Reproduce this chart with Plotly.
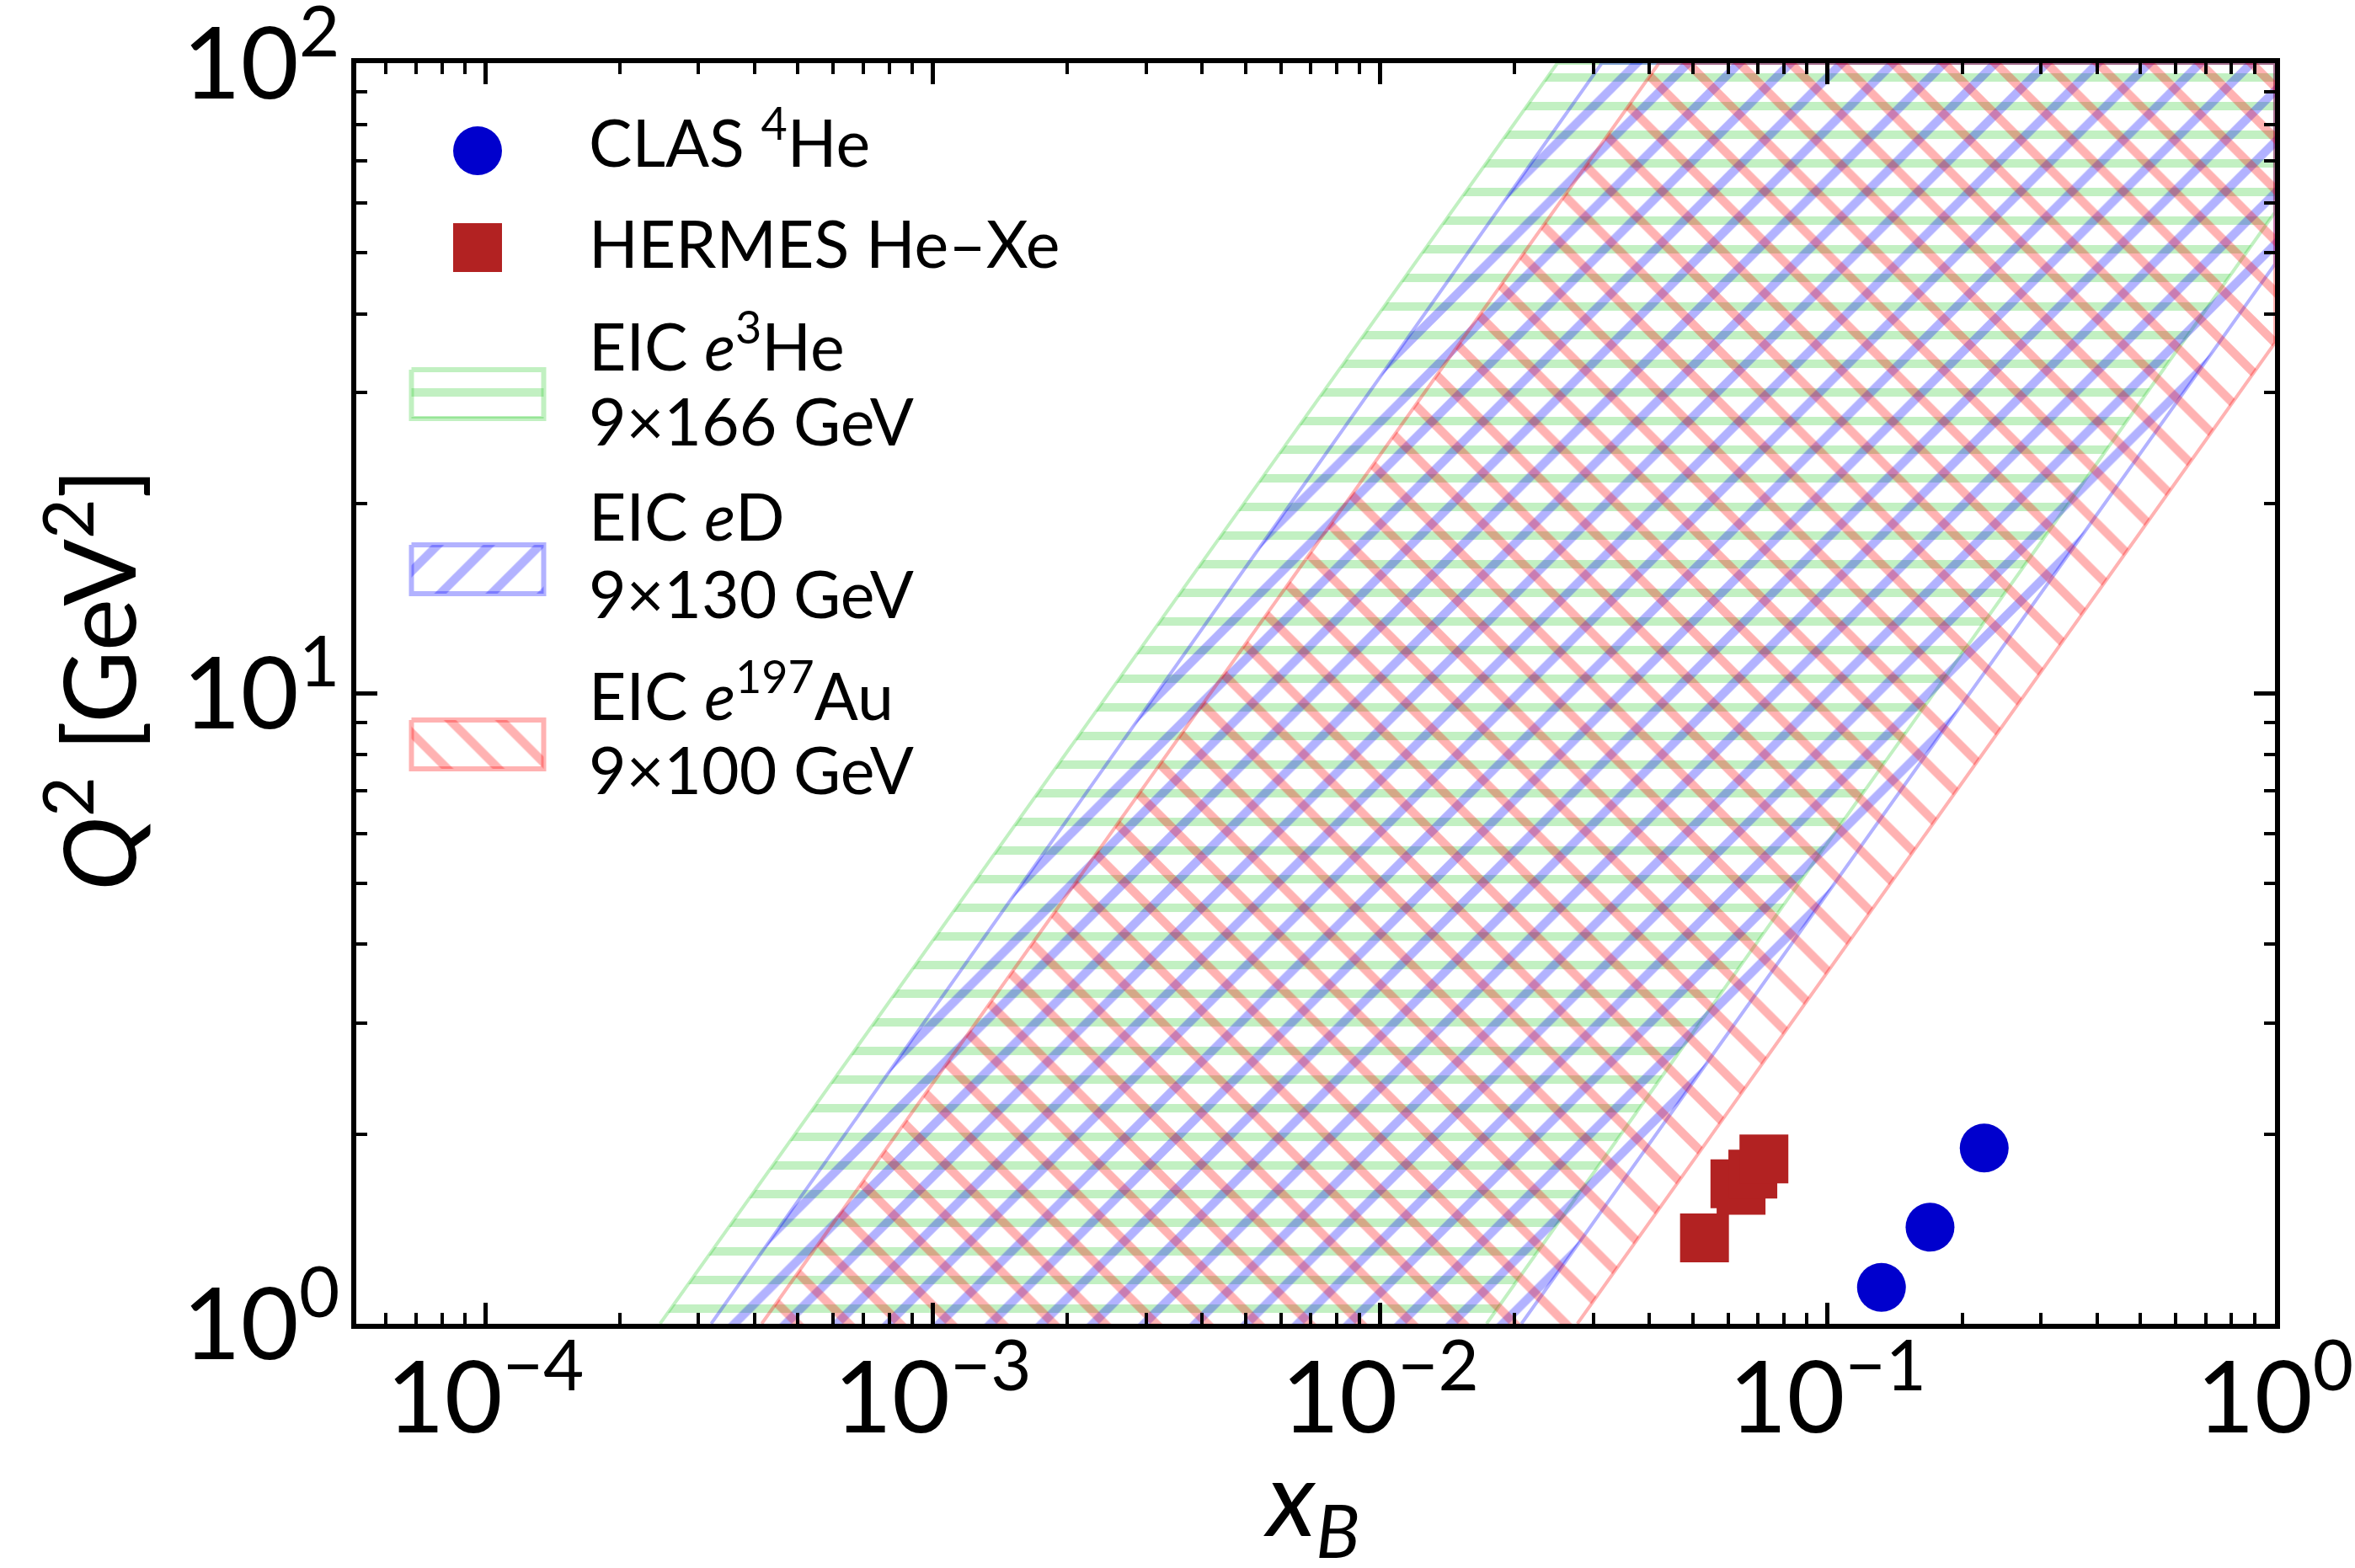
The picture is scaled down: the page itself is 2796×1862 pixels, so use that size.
import plotly.graph_objects as go

# ---------------- data ----------------
clas_x = [0.132, 0.1695, 0.224]
clas_q2 = [1.142, 1.423, 1.900]

hermes_x = [0.0531, 0.0621, 0.0641, 0.0681, 0.0721]
hermes_q2 = [1.368, 1.667, 1.628, 1.727, 1.826]

# EIC kinematic coverage bands (polygon vertices in x_B, Q^2)
eic_he3_x = [2.46e-4, 2.49e-2, 1.0, 1.0, 1.73e-2]
eic_he3_q2 = [1.0, 100.0, 100.0, 58.0, 1.0]
eic_d_x = [3.2e-4, 3.13e-2, 1.0, 1.0, 2.07e-2]
eic_d_q2 = [1.0, 100.0, 100.0, 48.0, 1.0]
eic_au_x = [4.15e-4, 4.2e-2, 1.0, 1.0, 2.76e-2]
eic_au_q2 = [1.0, 100.0, 100.0, 36.0, 1.0]

x_tickvals = [1e-4, 1e-3, 1e-2, 1e-1, 1]
x_ticktext = ["10<sup>\u22124</sup>", "10<sup>\u22123</sup>", "10<sup>\u22122</sup>",
              "10<sup>\u22121</sup>", "10<sup>0</sup>"]
y_tickvals = [1, 10, 100]
y_ticktext = ["10<sup>0</sup>", "10<sup>1</sup>", "10<sup>2</sup>"]

x_title = "<i>x</i><sub><i>B</i></sub>"
y_title = "<i>Q</i><sup>2</sup> [GeV<sup>2</sup>]"

legend_labels = [
    ["CLAS <sup>4</sup>He"],
    ["HERMES He\u2013Xe"],
    ["EIC <i>e</i><sup>3</sup>He", "9\u00d7166 GeV"],
    ["EIC <i>e</i>D", "9\u00d7130 GeV"],
    ["EIC <i>e</i><sup>197</sup>Au", "9\u00d7100 GeV"],
]

# ---------------- styles ----------------
GREEN = "rgba(50,205,50,0.3)"
BLUE = "rgba(0,0,255,0.3)"
RED = "rgba(255,0,0,0.3)"
CLAS_C = "#0000CD"
HERMES_C = "#B22222"
FONT = "Lato"

W, H = 2796, 1862
L, R, T, B = 423, 95, 75, 290
PW, PH = W - L - R, H - T - B

def pat(shape, color, size, solidity):
    return dict(shape=shape, fgcolor=color, bgcolor="rgba(0,0,0,0)",
                size=size, solidity=solidity, fillmode="replace")

bands = [
    ("EIC e3He 9x166 GeV", eic_he3_x, eic_he3_q2, GREEN, pat("-", GREEN, 34, 0.3)),
    ("EIC eD 9x130 GeV", eic_d_x, eic_d_q2, BLUE, pat("/", BLUE, 43, 0.24)),
    ("EIC e197Au 9x100 GeV", eic_au_x, eic_au_q2, RED, pat("\\", RED, 43, 0.24)),
]

fig = go.Figure()
for name, bx, bq, col, p in bands:
    fig.add_trace(go.Scatter(x=bx, y=bq, mode="lines", fill="toself", name=name,
                             line=dict(color=col, width=4), fillcolor=col,
                             fillpattern=p, showlegend=False, hoverinfo="skip"))

fig.add_trace(go.Scatter(x=hermes_x, y=hermes_q2, mode="markers", name="HERMES He\u2013Xe",
                         marker=dict(symbol="square", size=58, color=HERMES_C, line=dict(width=0)),
                         showlegend=False))
fig.add_trace(go.Scatter(x=clas_x, y=clas_q2, mode="markers", name="CLAS 4He",
                         marker=dict(symbol="circle", size=58, color=CLAS_C, line=dict(width=0)),
                         showlegend=False))

# ---------------- hand-made legend on an overlay pixel axis ----------------
px_x0, px_x1 = L, W - R
px_y0, px_y1 = H - B, T
sym_cx = 567
box_w, box_h = 157, 58
fig.add_trace(go.Scatter(x=[sym_cx], y=[179], xaxis="x2", yaxis="y2", mode="markers",
                         marker=dict(symbol="circle", size=58, color=CLAS_C),
                         showlegend=False, hoverinfo="skip"))
fig.add_trace(go.Scatter(x=[sym_cx], y=[294], xaxis="x2", yaxis="y2", mode="markers",
                         marker=dict(symbol="square", size=58, color=HERMES_C),
                         showlegend=False, hoverinfo="skip"))
box_centers = [468, 676, 884]
for (name, bx, bq, col, p), cy in zip(bands, box_centers):
    x0, x1 = sym_cx - box_w / 2, sym_cx + box_w / 2
    y0, y1 = cy - box_h / 2, cy + box_h / 2
    fig.add_trace(go.Scatter(x=[x0, x1, x1, x0, x0], y=[y0, y0, y1, y1, y0],
                             xaxis="x2", yaxis="y2", mode="lines", fill="toself",
                             line=dict(color=col, width=6), fillcolor=col, fillpattern=p,
                             showlegend=False, hoverinfo="skip"))

text_x = 697
line_centers = [[163], [288], [405, 499], [612, 704], [820, 913]]
for labels, ys in zip(legend_labels, line_centers):
    for lab, yy in zip(labels, ys):
        fig.add_annotation(x=text_x, y=yy, xref="x2", yref="y2", text=lab,
                           showarrow=False, xanchor="left", yanchor="middle",
                           font=dict(family=FONT, size=77, color="black"))

# axis titles placed as paper annotations (pixel positions converted to paper fractions)
fig.add_annotation(x=(1557 - L) / PW, y=(H - B - 1785) / PH, xref="paper", yref="paper",
                   text=x_title, showarrow=False, xanchor="center", yanchor="middle",
                   font=dict(family=FONT, size=125, color="black"))
fig.add_annotation(x=(107 - L) / PW, y=(H - B - 807) / PH, xref="paper", yref="paper",
                   text=y_title, showarrow=False, xanchor="center", yanchor="middle",
                   textangle=-90, font=dict(family=FONT, size=118, color="black"))

axis_common = dict(showgrid=False, zeroline=False, showline=True, linecolor="black",
                   linewidth=6, mirror="allticks", ticks="inside", ticklen=25,
                   tickwidth=5, tickcolor="black", automargin=False,
                   ticklabeloverflow="allow")

x_minor = [k * 10 ** e for e in range(-5, 0) for k in range(2, 10)]
y_minor = [k * 10 ** e for e in range(0, 2) for k in range(2, 10)]

fig.update_layout(
    width=W, height=H,
    margin=dict(l=L, r=R, t=T, b=B),
    plot_bgcolor="white", paper_bgcolor="white",
    showlegend=False,
    font=dict(family=FONT, color="black"),
    xaxis=dict(type="log", range=[-4.288, 0.0001], tickmode="array", tickvals=x_tickvals,
               ticktext=x_ticktext, tickfont=dict(size=119), ticklabelstandoff=-20,
               minor=dict(tickvals=x_minor, ticks="inside", ticklen=13, tickwidth=4,
                          tickcolor="black", showgrid=False),
               **axis_common),
    yaxis=dict(type="log", range=[-0.0001, 2.0001], tickmode="array", tickvals=y_tickvals,
               ticktext=y_ticktext, tickfont=dict(size=119), ticklabelstandoff=-10,
               minor=dict(tickvals=y_minor, ticks="inside", ticklen=13, tickwidth=4,
                          tickcolor="black", showgrid=False),
               **axis_common),
    xaxis2=dict(overlaying="x", range=[px_x0, px_x1], visible=False, anchor="y2"),
    yaxis2=dict(overlaying="y", range=[px_y0, px_y1], visible=False, anchor="x2"),
)

fig.write_html("out.html", config={"displayModeBar": False},
               post_script="document.body.style.margin='0px';")
